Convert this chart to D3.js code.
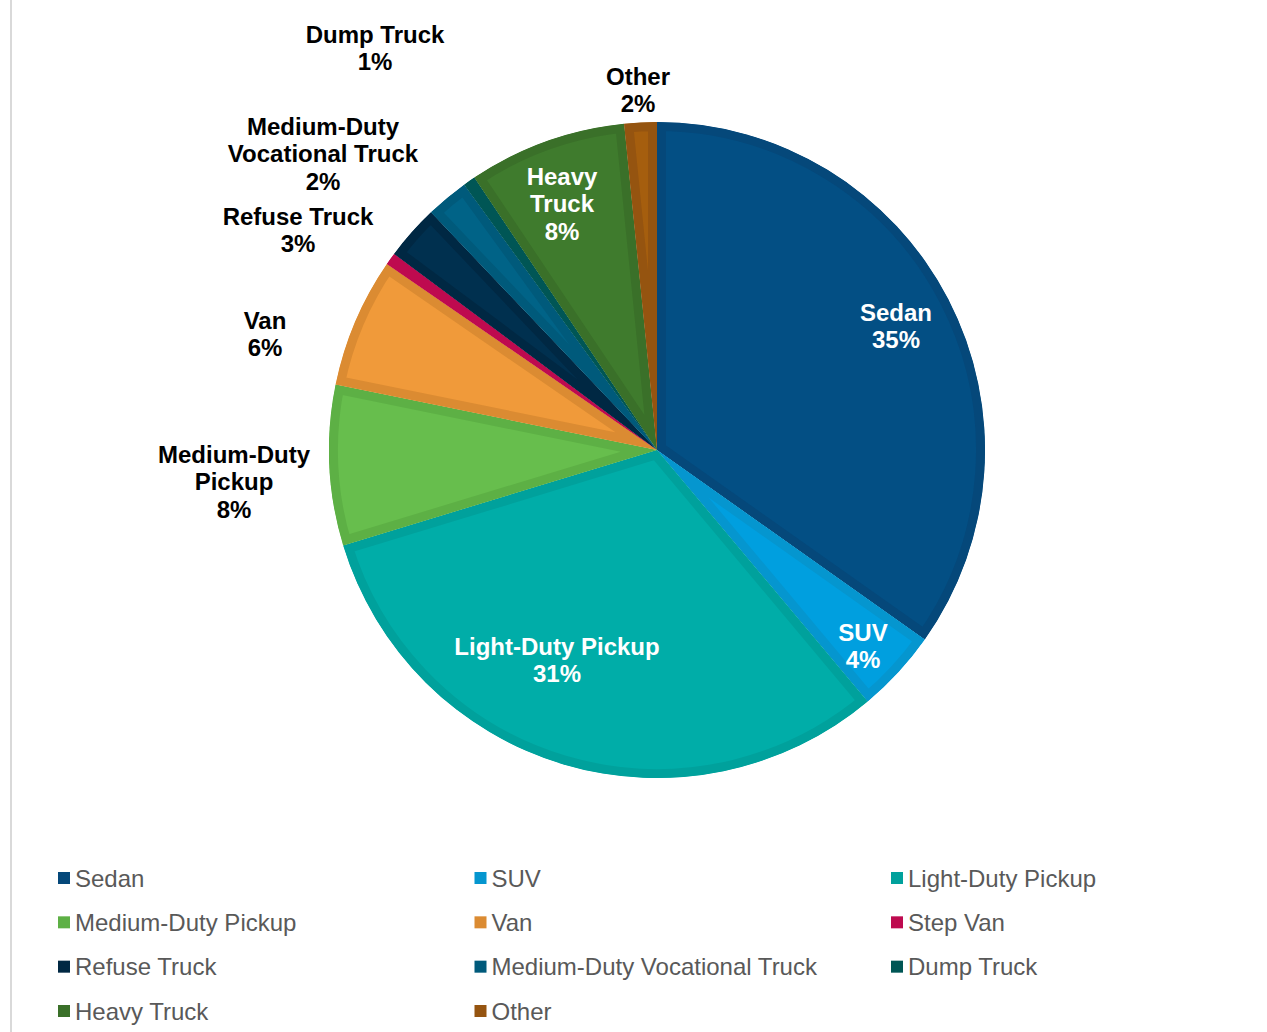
<!DOCTYPE html>
<html>
<head>
<meta charset="utf-8">
<script src="https://cdn.jsdelivr.net/npm/d3@7.9.0/dist/d3.min.js"></script>
<style>
  body { margin: 0; background: #fff; }
  svg { display: block; font-family: 'Liberation Sans', Arial, sans-serif; }
</style>
</head>
<body>
<svg id="chart" width="1267" height="1032"></svg>
<script>
// vehicle share (%)
const categories = ['Sedan', 'SUV', 'Light-Duty Pickup', 'Medium-Duty Pickup', 'Van', 'Step Van',
  'Refuse Truck', 'Medium-Duty Vocational Truck', 'Dump Truck', 'Heavy Truck', 'Other'];
const shares = [34.8, 4.1, 31.4, 7.9, 6.4, 0.6, 2.7, 2.1, 0.6, 7.8, 1.6];
const percentLabels = ['35%', '4%', '31%', '8%', '6%', '', '3%', '2%', '1%', '8%', '2%'];

const fills = ['#034f84', '#009fdf', '#00ada8', '#67be4d', '#f09a3a', '#ce0a55',
  '#00304f', '#006387', '#005f5e', '#3f7b2d', '#a55e0e'];
const edges = ['#05487a', '#0596cf', '#00a19c', '#5db045', '#db8b32', '#be0a4f',
  '#002843', '#005a7b', '#005655', '#3a7029', '#955410'];

// label text lines and where Excel placed them (center of first line)
const labelLines = {
  'Sedan': ['Sedan'],
  'SUV': ['SUV'],
  'Light-Duty Pickup': ['Light-Duty Pickup'],
  'Medium-Duty Pickup': ['Medium-Duty', 'Pickup'],
  'Van': ['Van'],
  'Refuse Truck': ['Refuse Truck'],
  'Medium-Duty Vocational Truck': ['Medium-Duty', 'Vocational Truck'],
  'Dump Truck': ['Dump Truck'],
  'Heavy Truck': ['Heavy', 'Truck'],
  'Other': ['Other'],
};
const labelAt = {
  'Sedan': [896, 312], 'SUV': [863, 632], 'Light-Duty Pickup': [557, 646],
  'Medium-Duty Pickup': [234, 454], 'Van': [265, 320], 'Refuse Truck': [298, 216],
  'Medium-Duty Vocational Truck': [323, 126], 'Dump Truck': [375, 34],
  'Heavy Truck': [562, 176], 'Other': [638, 76],
};
const insideLabels = ['Sedan', 'SUV', 'Light-Duty Pickup', 'Heavy Truck'];

const svg = d3.select('#chart');
const cx = 657, cy = 450, radius = 328;
const band = 9;
const lineH = 27.5;

// thin frame line at the left
svg.append('line')
  .attr('x1', 11).attr('x2', 11).attr('y1', 0).attr('y2', 1032)
  .attr('stroke', '#d9d9d9').attr('stroke-width', 2);

const rows = categories.map((c, i) => ({ name: c, value: shares[i], pct: percentLabels[i], i }));

const pie = d3.pie().sort(null).value((d) => d.value);
const arc = d3.arc().innerRadius(0).outerRadius(radius);
const arcs = pie(rows);

const g = svg.append('g').attr('transform', `translate(${cx},${cy})`);
const defs = svg.append('defs');

arcs.forEach((a, k) => {
  defs.append('clipPath').attr('id', 'clip' + k)
    .append('path').attr('d', arc(a));
});

g.selectAll('path.slice')
  .data(arcs)
  .join('path')
  .attr('class', 'slice')
  .attr('d', arc)
  .attr('clip-path', (d, k) => `url(#clip${k})`)
  .attr('fill', (d) => fills[d.data.i])
  .attr('stroke', (d) => edges[d.data.i])
  .attr('stroke-width', band * 2)
  .attr('stroke-linejoin', 'miter');

// data labels
const fontSize = 24;
rows.forEach((d) => {
  if (!labelLines[d.name]) return;
  const [lx, ly] = labelAt[d.name];
  const lines = labelLines[d.name].concat([d.pct]);
  const t = svg.append('text')
    .attr('text-anchor', 'middle')
    .attr('font-weight', 'bold')
    .attr('font-size', fontSize)
    .attr('fill', insideLabels.includes(d.name) ? '#ffffff' : '#000000');
  lines.forEach((ln, j) => {
    t.append('tspan')
      .attr('x', lx)
      .attr('y', ly + j * lineH + fontSize * 0.36)
      .text(ln);
  });
});

// legend, three columns
const legendX = d3.scalePoint().domain([0, 1, 2]).range([58, 891]);
const legendY = d3.scalePoint().domain([0, 1, 2, 3]).range([878, 1011]);
const legend = svg.append('g');
rows.forEach((d, k) => {
  const x = legendX(k % 3), y = legendY(Math.floor(k / 3));
  legend.append('rect')
    .attr('x', x).attr('y', y - 6).attr('width', 12).attr('height', 12)
    .attr('fill', edges[d.i]);
  legend.append('text')
    .attr('x', x + 17).attr('y', y + 8.5)
    .attr('font-size', 24)
    .attr('fill', '#595959')
    .text(d.name);
});
</script>
</body>
</html>
